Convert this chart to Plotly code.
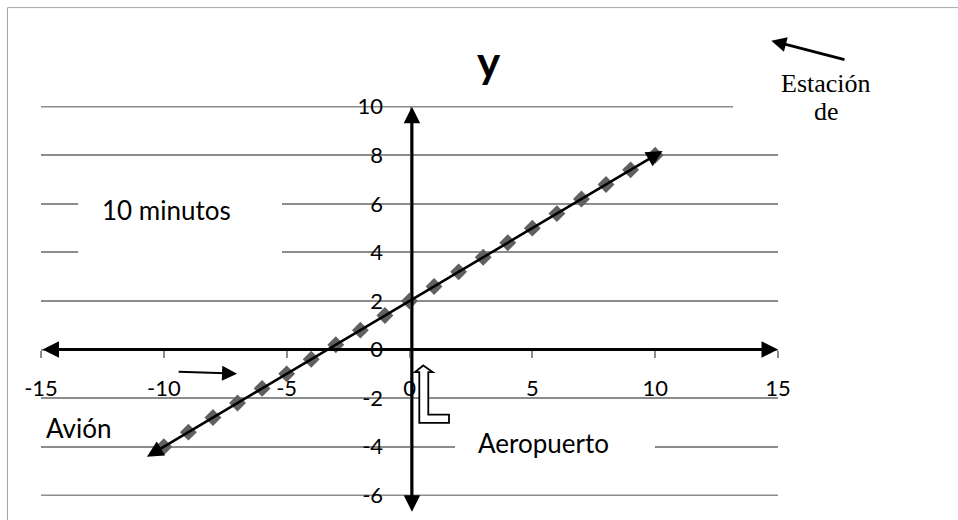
import plotly.graph_objects as go

# ---- data ----
x_vals = [-10, -9, -8, -7, -6, -5, -4, -3, -2, -1, 0, 1, 2, 3, 4, 5, 6, 7, 8, 9, 10]
y_vals = [-4, -3.4, -2.8, -2.2, -1.6, -1, -0.4, 0.2, 0.8, 1.4, 2, 2.6, 3.2, 3.8, 4.4, 5, 5.6, 6.2, 6.8, 7.4, 8]
x_ticks = [-15, -10, -5, 0, 5, 10, 15]
y_ticks = [-6, -4, -2, 0, 2, 4, 6, 8, 10]
chart_title = "y"
labels = {"minutes": "10 minutos", "plane": "Avión", "airport": "Aeropuerto",
          "station1": "Estación", "station2": "de"}

W, H = 958, 520
# pixel frame of the Excel plot area: x -15..15 -> 41..778, y -6..10 -> 497..107
X0PX, X1PX, Y0PX, Y1PX = 41, 778, 497, 107
EPS = 0.03  # tiny range padding so the edge gridlines (-6 and 10) stay inside
xr = [x_ticks[0], x_ticks[-1]]
yr = [y_ticks[0] - EPS, y_ticks[-1] + EPS]
ppu_y = (Y0PX - Y1PX) / (y_ticks[-1] - y_ticks[0])
MT = Y1PX - EPS * ppu_y
MB = H - (Y0PX + EPS * ppu_y)
ML, MR = X0PX, W - X1PX
PW, PH = W - ML - MR, H - MT - MB
GRID = "#8c8c8c"


def px2paper(px, py):
    return (px - ML) / PW, (H - MB - py) / PH


SANS = "Lato"
fig = go.Figure()
fig.add_trace(go.Scatter(
    x=x_vals, y=y_vals, mode="markers",
    marker=dict(symbol="diamond", size=13, color="#606060"),
    hoverinfo="skip", showlegend=False,
))

# arrow line along the data, extended a bit past both ends
slope = (y_vals[-1] - y_vals[0]) / (x_vals[-1] - x_vals[0])
hx, hy = x_vals[-1] + 0.3, y_vals[-1] + 0.3 * slope
tx, ty = x_vals[0] - 0.75, y_vals[0] - 0.75 * slope

arrow_common = dict(showarrow=True, text="", arrowcolor="black",
                    arrowhead=2, startarrowhead=2)
annotations = [
    # x axis arrow
    dict(x=x_ticks[-1], y=0, ax=x_ticks[0], ay=0, xref="x", yref="y", axref="x", ayref="y",
         arrowside="end+start", arrowwidth=3, arrowsize=1.1, startarrowsize=1.1, **arrow_common),
    # y axis arrow
    dict(x=0.1, y=y_ticks[-1], ax=0.1, ay=-6.74, xref="x", yref="y", axref="x", ayref="y",
         arrowside="end+start", arrowwidth=3, arrowsize=1.1, startarrowsize=1.1, **arrow_common),
    # data arrow
    dict(x=hx, y=hy, ax=tx, ay=ty, xref="x", yref="y", axref="x", ayref="y",
         arrowside="end+start", arrowwidth=2.6, arrowsize=1.25, startarrowsize=1.25, **arrow_common),
    # small arrow near -10
    dict(x=-7.02, y=-0.995, ax=-9.46, ay=-0.913, xref="x", yref="y", axref="x", ayref="y",
         arrowwidth=2, arrowsize=1.5, **arrow_common),
]
# arrow near "Estación"
ex, ey = px2paper(771.3, 40.7)
annotations.append(dict(x=ex, y=ey, xref="paper", yref="paper", ax=74.7, ay=19.3,
                        arrowwidth=3, arrowsize=1.0, **arrow_common))


def text_ann(txt, px, py, family=SANS, size=26):
    x, y = px2paper(px, py)
    return dict(x=x, y=y, xref="paper", yref="paper", text=txt, showarrow=False,
                xanchor="center", yanchor="middle",
                font=dict(family=family, size=size, color="black"))


annotations += [
    text_ann(labels["minutes"], 166.7, 211),
    text_ann(labels["plane"], 78.5, 429),
    text_ann(labels["airport"], 543.5, 445),
    text_ann(labels["station1"], 825.5, 84, family="Liberation Serif", size=26),
    text_ann(labels["station2"], 826, 112, family="Liberation Serif", size=26),
]

shapes = [
    # chart border
    dict(type="rect", xref="paper", yref="paper",
         x0=px2paper(7.5, 0)[0], x1=px2paper(962, 0)[0],
         y0=px2paper(0, 525)[1], y1=px2paper(0, 7.5)[1],
         line=dict(color="#a6a6a6", width=1), fillcolor="rgba(0,0,0,0)", layer="below"),
]
# edge gridlines (plotly skips gridlines at the range ends)
for yv in (y_ticks[0], y_ticks[-1]):
    shapes.append(dict(type="line", xref="x", yref="y", x0=xr[0], x1=xr[1], y0=yv, y1=yv,
                       line=dict(color=GRID, width=1.5), layer="below"))
shapes += [
    # white text boxes hiding gridlines
    dict(type="rect", xref="x", yref="y", x0=-13.49, x1=-5.19, y0=3.52, y1=6.6,
         fillcolor="white", line=dict(width=0), layer="above"),
    dict(type="rect", xref="x", yref="y", x0=1.85, x1=9.99, y0=-4.95, y1=-2.85,
         fillcolor="white", line=dict(width=0), layer="above"),
    dict(type="rect", xref="x", yref="y", x0=13.17, x1=16, y0=9.05, y1=12,
         fillcolor="white", line=dict(width=0), layer="above"),
    # hollow U-turn arrow near origin
    dict(type="path", xref="x", yref="y",
         path="M 0.562 -0.654 L 0.944 -0.925 L 0.765 -0.925 L 0.765 -2.677 L 1.608 -2.677 "
              "L 1.608 -3.017 L 0.399 -3.017 L 0.399 -0.925 L 0.224 -0.925 Z",
         fillcolor="white", line=dict(color="black", width=1.8), layer="above"),
]

fig.update_layout(
    width=W, height=H,
    margin=dict(l=ML, r=MR, t=MT, b=MB, pad=0),
    paper_bgcolor="white", plot_bgcolor="white",
    showlegend=False,
    title=dict(text=chart_title, x=px2paper(488.5, 0)[0], xref="paper", xanchor="center",
               y=1 - 63 / H, yref="container", yanchor="middle",
               font=dict(family=SANS, size=44, color="black", weight="bold")),
    font=dict(family=SANS, size=22, color="black"),
    annotations=annotations,
    shapes=shapes,
)
fig.update_xaxes(
    range=xr, tickvals=x_ticks, ticktext=[str(v) for v in x_ticks],
    showgrid=False, zeroline=False, anchor="free",
    position=(0 - yr[0]) / (yr[1] - yr[0]),
    showline=True, linecolor=GRID, ticks="outside", ticklen=7, tickwidth=1.5,
    tickcolor=GRID, ticklabelstandoff=12, tickfont=dict(family=SANS, size=22),
)
fig.update_yaxes(
    range=yr, tickvals=y_ticks, ticktext=[str(v) for v in y_ticks],
    showgrid=True, gridcolor=GRID, gridwidth=1.5, zeroline=False,
    anchor="free", position=0.5, showline=True, linecolor=GRID,
    ticks="", ticklabelstandoff=22, tickfont=dict(family=SANS, size=22),
)

fig.write_html("out.html", config={"displayModeBar": False})
